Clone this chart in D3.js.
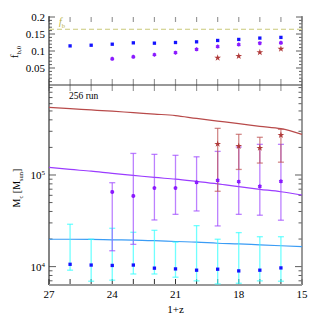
<!DOCTYPE html>
<html>
<head>
<meta charset="utf-8">
<script src="https://cdn.jsdelivr.net/npm/d3@7"></script>
<style>
body{margin:0;background:#fff;}
text{font-family:"Liberation Serif","DejaVu Serif",serif;}
</style>
</head>
<body>
<script>
// 1+z positions of the snapshots
var zsnap = [26, 25, 24, 23, 22, 21, 20, 19, 18, 17, 16];

// top panel: baryon fraction
var fbBlue = [0.115, 0.117, 0.120, 0.124, 0.123, 0.125, 0.127, 0.131, 0.134, 0.138, 0.140];
var fbPurpleZ = [24, 23, 22, 21, 20, 19, 18, 17, 16];
var fbPurple = [0.077, 0.083, 0.089, 0.095, 0.105, 0.113, 0.119, 0.123, 0.124];
var fbRedZ = [19, 18, 17, 16];
var fbRed = [0.080, 0.085, 0.096, 0.106];
var fbCosmic = 0.164;

// bottom panel: characteristic mass, point + upper + lower
var mBlue = [10600, 10400, 10300, 10400, 9620, 9440, 9140, 9370, 8980, 9140, 9680];
var mBlueHi = [29000, 19900, 26200, 23700, 24900, 18500, 28000, 19900, 23500, 21200, 21200];
var mBlueLo = [9140, 6930, 7110, 8310, 8310, 7660, 6990, 6470, 6580, 6990, 6930];

var mPurpleZ = [24, 23, 22, 21, 20, 19, 18, 17, 16];
var mPurple = [65300, 59100, 72100, 72100, 83200, 87500, 84500, 75300, 85300];
var mPurpleHi = [82400, 172000, 168000, 164000, 158000, 181000, 202000, 216000, 216000];
var mPurpleLo = [14900, 17500, 32300, 37200, 40500, 27800, 37200, 36400, 32100];

var mRedZ = [19, 18, 17, 16];
var mRed = [218000, 207000, 197000, 273000];
var mRedHi = [323000, 278000, 258000, 315000];
var mRedLo = [66400, 115000, 135000, 138000];

// model curves
var curveZ = [27, 26, 25, 24, 23, 22, 21, 20, 19, 18, 17, 16, 15];
var curveRed = [547000, 530000, 513000, 497000, 479000, 462000, 445000, 414000, 388000, 364000, 340000, 320000, 278000];
var curvePurple = [121000, 115000, 110000, 104000, 99000, 94000, 90000, 85000, 80000, 74500, 69800, 65600, 60500];
var curveBlue = [19900, 19900, 19800, 19600, 19500, 19200, 18800, 18500, 18000, 17700, 17300, 16900, 16500];

var xTicks = [27, 24, 21, 18, 15];
var fbTicks = [0.05, 0.1, 0.15, 0.2];

var W = 319, H = 319;
var svg = d3.select("body").append("svg").attr("width", W).attr("height", H);

var x = d3.scaleLinear().domain([27, 15]).range([49, 302]);
var yTop = d3.scaleLinear().domain([0, 0.2]).range([85, 17]);
var yBot = d3.scaleLog().domain([6300, 960000]).range([285, 85]);

var axisCol = "#333", tickCol = "#999";

// ---- ticks (drawn inside the frame)
var g = svg.append("g");
d3.range(15, 28).forEach(function(v){
    var xx = x(v);
    // bottom of lower panel
    g.append("line").attr("x1", xx).attr("x2", xx).attr("y1", 285).attr("y2", 279)
	.attr("stroke", axisCol).attr("stroke-width", 1);
    // shared divider
    g.append("line").attr("x1", xx).attr("x2", xx).attr("y1", 79).attr("y2", 91)
	.attr("stroke", tickCol).attr("stroke-width", 1.2);
    // top edge
    g.append("line").attr("x1", xx).attr("x2", xx).attr("y1", 17).attr("y2", 22)
	.attr("stroke", tickCol).attr("stroke-width", 1.2);
});

// top panel y ticks
d3.range(1, 21).forEach(function(i){
    var v = i * 0.01, yy = yTop(v);
    var major = i % 5 == 0;
    var len = major ? 6 : 3;
    g.append("line").attr("x1", 49).attr("x2", 49 + len).attr("y1", yy).attr("y2", yy)
	.attr("stroke", axisCol).attr("stroke-width", 0.8);
    g.append("line").attr("x1", 302).attr("x2", 302 - len).attr("y1", yy).attr("y2", yy)
	.attr("stroke", axisCol).attr("stroke-width", 0.8);
});

// bottom panel log ticks
[1000, 10000, 100000].forEach(function(dec){
    for (var k = 1; k < 10; k++){
	var v = dec * k;
	if (v < 6300 || v > 960000) continue;
	var yy = yBot(v);
	var len = k == 1 ? 7 : 3.5;
	g.append("line").attr("x1", 49).attr("x2", 49 + len).attr("y1", yy).attr("y2", yy)
	    .attr("stroke", axisCol).attr("stroke-width", 0.8);
	g.append("line").attr("x1", 302).attr("x2", 302 - len).attr("y1", yy).attr("y2", yy)
	    .attr("stroke", axisCol).attr("stroke-width", 0.8);
    }
});

// ---- frame
svg.append("line").attr("x1", 49).attr("x2", 49).attr("y1", 16).attr("y2", 285).attr("stroke", axisCol).attr("stroke-width", 1.2);
svg.append("line").attr("x1", 302).attr("x2", 302).attr("y1", 16).attr("y2", 285).attr("stroke", "#777").attr("stroke-width", 1.5);
svg.append("line").attr("x1", 49).attr("x2", 302).attr("y1", 85).attr("y2", 85).attr("stroke", axisCol).attr("stroke-width", 1.2);
svg.append("line").attr("x1", 49).attr("x2", 302).attr("y1", 285).attr("y2", 285).attr("stroke", "#999").attr("stroke-width", 2);

// ---- tick labels
xTicks.forEach(function(v){
    svg.append("text").attr("x", x(v)).attr("y", 298).attr("text-anchor", "middle")
	.attr("font-size", 11).text(v);
});
fbTicks.forEach(function(v){
    svg.append("text").attr("x", 45).attr("y", yTop(v) + 4).attr("text-anchor", "end")
	.attr("font-size", 11).text(v);
});
[10000, 100000].forEach(function(v){
    var t = svg.append("text").attr("x", 45).attr("y", yBot(v) + 4).attr("text-anchor", "end")
	.attr("font-size", 11);
    t.append("tspan").text("10");
    t.append("tspan").attr("dy", -4).attr("font-size", 7).text(Math.round(Math.log10(v)));
});

// axis titles
svg.append("text").attr("x", x(21)).attr("y", 313).attr("text-anchor", "middle")
    .attr("font-size", 11).text("1+z");
var fl = svg.append("text").attr("transform", "translate(18,52) rotate(-90)")
    .attr("text-anchor", "middle").attr("font-size", 11);
fl.append("tspan").text("f");
fl.append("tspan").attr("dy", 3).attr("font-size", 7).text("b,0");
var ml = svg.append("text").attr("transform", "translate(20,188) rotate(-90)")
    .attr("text-anchor", "middle").attr("font-size", 10);
ml.append("tspan").text("M");
ml.append("tspan").attr("dy", 3).attr("font-size", 6.5).text("c");
ml.append("tspan").attr("dy", -3).text(" [M");
ml.append("tspan").attr("dy", 3).attr("font-size", 6.5).text("sun");
ml.append("tspan").attr("dy", -3).text("]");

// ---- top panel
svg.append("line").attr("x1", 49).attr("x2", 302).attr("y1", yTop(fbCosmic)).attr("y2", yTop(fbCosmic))
    .attr("stroke", "#c9c97a").attr("stroke-width", 1.2).attr("stroke-dasharray", "5,3");
var fbl = svg.append("text").attr("x", 59).attr("y", 25).attr("fill", "#b5b040")
    .attr("font-size", 10).attr("font-style", "italic");
fbl.append("tspan").text("f");
fbl.append("tspan").attr("dy", 3).attr("font-size", 6.5).attr("font-style", "normal").text("b");

var sq = d3.symbol().type(d3.symbolSquare).size(11);
var ast = d3.symbol().type(d3.symbolAsterisk).size(11);
var star = d3.symbol().type(d3.symbolStar).size(14);

function drawSquares(zs, vs, ys){
    zs.forEach(function(z, i){
	svg.append("path").attr("d", sq()).attr("fill", "#1414ff")
	    .attr("transform", "translate(" + x(z) + "," + ys(vs[i]) + ")");
    });
}
function drawAst(zs, vs, ys){
    zs.forEach(function(z, i){
	var p = "translate(" + x(z) + "," + ys(vs[i]) + ")";
	svg.append("path").attr("d", ast()).attr("stroke", "#8a1aff").attr("stroke-width", 1.4)
	    .attr("fill", "none").attr("transform", p);
	svg.append("path").attr("d", d3.symbol().type(d3.symbolSquare).size(6)()).attr("fill", "#8a1aff")
	    .attr("transform", p);
    });
}
function drawStars(zs, vs, ys){
    zs.forEach(function(z, i){
	svg.append("path").attr("d", star()).attr("fill", "#b03a3a")
	    .attr("transform", "translate(" + x(z) + "," + ys(vs[i]) + ")");
    });
}

drawSquares(zsnap, fbBlue, yTop);
drawAst(fbPurpleZ, fbPurple, yTop);
drawStars(fbRedZ, fbRed, yTop);

// ---- bottom panel
var line = d3.line().x(function(d){ return x(d[0]); }).y(function(d){ return yBot(d[1]); })
    .curve(d3.curveMonotoneX);
function curve(vals, col){
    svg.append("path").datum(d3.zip(curveZ, vals)).attr("d", line)
	.attr("fill", "none").attr("stroke", col).attr("stroke-width", 1.2);
}
curve(curveRed, "#b84a4a");
curve(curvePurple, "#9b3cff");
curve(curveBlue, "#3a9cf5");

svg.append("text").attr("x", 69).attr("y", 99).attr("font-size", 9.5)
    .attr("font-family", "Liberation Mono, DejaVu Sans Mono, monospace").text("256 run");

function errBars(zs, hi, lo, col){
    zs.forEach(function(z, i){
	var xx = x(z);
	var y1 = yBot(hi[i]), y2 = Math.min(yBot(lo[i]), 285);
	svg.append("line").attr("x1", xx).attr("x2", xx).attr("y1", y1).attr("y2", y2)
	    .attr("stroke", col).attr("stroke-width", 1.3).attr("stroke-opacity", 0.7);
	[y1, y2].forEach(function(yy){
	    svg.append("line").attr("x1", xx - 3).attr("x2", xx + 3).attr("y1", yy).attr("y2", yy)
		.attr("stroke", col).attr("stroke-width", 1.3).attr("stroke-opacity", 0.7);
	});
    });
}
errBars(zsnap, mBlueHi, mBlueLo, "#33ffff");
errBars(mPurpleZ, mPurpleHi, mPurpleLo, "#a04cff");
errBars(mRedZ, mRedHi, mRedLo, "#c05858");

drawSquares(zsnap, mBlue, yBot);
drawAst(mPurpleZ, mPurple, yBot);
drawStars(mRedZ, mRed, yBot);
</script>
</body>
</html>
